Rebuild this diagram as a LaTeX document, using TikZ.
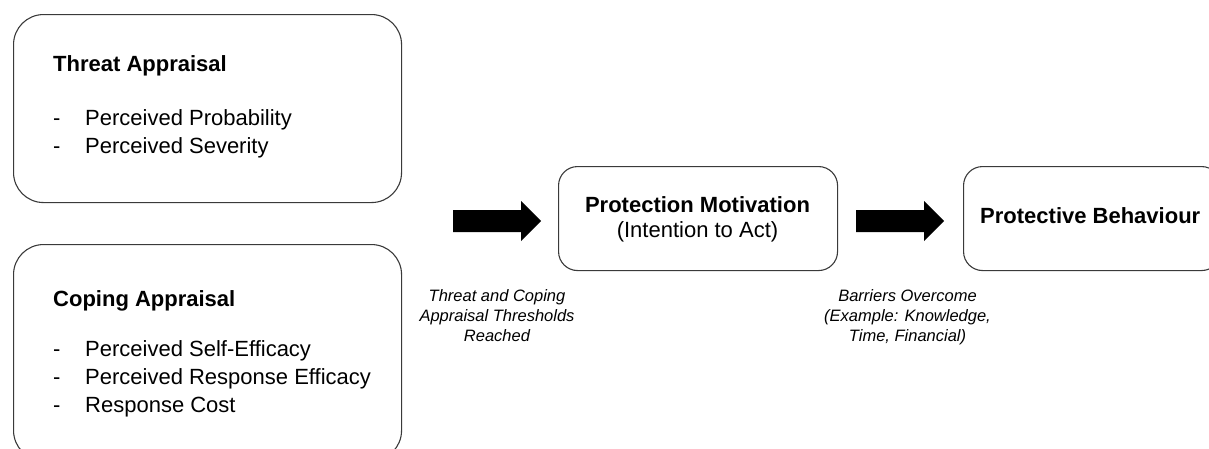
\documentclass[tikz,border=0pt]{standalone}
\usepackage{fontspec}
\setmainfont{Liberation Sans}
\definecolor{edge}{HTML}{3A3A3A}
\begin{document}
\begin{tikzpicture}[x=1pt,y=-1pt,
  bigbox/.style={draw=edge, line width=1.1pt, rounded corners=30pt, anchor=north west, inner sep=0pt},
  smallbox/.style={draw=edge, line width=1.1pt, rounded corners=19pt, anchor=north west, inner sep=0pt},
  title/.style={anchor=base west, inner sep=0pt, font=\fontsize{22}{28}\selectfont\bfseries},
  item/.style={anchor=base west, inner sep=0pt, font=\fontsize{22}{28}\selectfont},
  note/.style={anchor=north, inner sep=0pt, align=center, font=\fontsize{16.5}{20}\selectfont\itshape},
  blockarrow/.style={fill=black}]
\useasboundingbox (0,0) rectangle (1209,448);
\clip (0,0) rectangle (1209,448);

% appraisal boxes
\node[bigbox, minimum width=388pt, minimum height=188pt] (threat) at (13,14) {};
\node[bigbox, minimum width=388pt, minimum height=216pt] (coping) at (13,244) {};

% threat appraisal contents
\node[title] (threatT) at (53,71) {Threat Appraisal};
\node[item] (td1) at (53,125) {-};
\node[item] (ti1) at (85,125) {Perceived Probability};
\node[item] (td2) at (53,153) {-};
\node[item] (ti2) at (85,153) {Perceived Severity};

% coping appraisal contents
\node[title] (copingT) at (53,306) {Coping Appraisal};
\node[item] (cd1) at (53,356) {-};
\node[item] (ci1) at (85,356) {Perceived Self-Efficacy};
\node[item] (cd2) at (53,384) {-};
\node[item] (ci2) at (85,384) {Perceived Response Efficacy};
\node[item] (cd3) at (53,412) {-};
\node[item] (ci3) at (85,412) {Response Cost};

% motivation and behaviour boxes
\node[smallbox, minimum width=279pt, minimum height=104pt] (motiv) at (558,166) {};
\node[anchor=base, inner sep=0pt, font=\fontsize{22}{28}\selectfont\bfseries] (motivT) at (697.5,212) {Protection Motivation};
\node[anchor=base, inner sep=0pt, font=\fontsize{22}{28}\selectfont] (motivS) at (697.5,237) {(Intention to Act)};

\node[smallbox, minimum width=257pt, minimum height=104pt] (behav) at (963,166) {};
\node[anchor=base west, inner sep=0pt, font=\fontsize{22}{28}\selectfont\bfseries] (behavT) at (980,223) {Protective Behaviour};

% block arrows
\coordinate (a1) at (453,221);
\coordinate (a2) at (856,221);
\fill[blockarrow] (a1) ++(0,-11) -- ++(68,0) -- ++(0,-9) -- ++(20,20) -- ++(-20,20) -- ++(0,-9) -- ++(-68,0) -- cycle;
\fill[blockarrow] (a2) ++(0,-11) -- ++(68,0) -- ++(0,-9) -- ++(20,20) -- ++(-20,20) -- ++(0,-9) -- ++(-68,0) -- cycle;

% arrow captions
\node[note] (n1) at (497,289) {Threat and Coping\\Appraisal Thresholds\\Reached};
\node[note] (n2) at (907.5,289) {Barriers Overcome\\(Example: Knowledge,\\Time, Financial)};
\end{tikzpicture}
\end{document}
